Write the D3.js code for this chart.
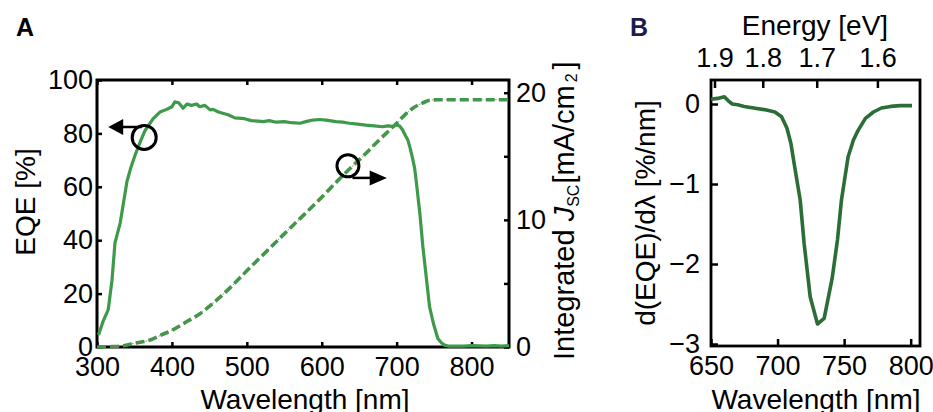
<!DOCTYPE html>
<html>
<head>
<meta charset="utf-8">
<script src="https://cdn.jsdelivr.net/npm/d3@7"></script>
<style>
  body { margin: 0; background: #fff; }
  svg text { font-family: "Liberation Sans", Arial, sans-serif; fill: #000; }
</style>
</head>
<body>
<div id="chart"></div>
<script>
(function()
{
    var width = 933;
    var height = 412;

    // panel A: EQE [%] vs wavelength
    var eqeWavelength = [302, 308, 315, 320, 324, 331, 340, 345, 351, 358, 364, 375, 384, 393, 400, 404, 409, 415, 420, 426,
        433, 437, 444, 451, 455, 462, 475, 484, 497, 506, 515, 522, 530, 539, 550, 560, 571, 580, 588, 597,
        606, 619, 628, 637, 648, 659, 670, 681, 688, 695, 700, 704, 708, 712, 715, 718, 721, 724, 726, 731,
        735, 740, 744, 749, 755, 760, 764, 770, 780, 790, 800, 810, 820, 830, 840, 850];
    var eqeValue = [4.5, 9.5, 14, 25, 39, 46.5, 62, 67, 72, 77, 81, 85.5, 88, 89, 90, 91.8, 91.5, 89.4, 91, 90.5,
        91, 90, 90.5, 88.8, 89, 88, 87, 85.8, 85.5, 84.8, 84.6, 84.4, 84.8, 84.2, 84.4, 84, 83.8, 84.5, 85, 85.2,
        85, 84.4, 84.2, 83.8, 83.5, 83.1, 82.8, 82.5, 82.8, 82.6, 83.2, 82.8, 81.3, 79, 77.5, 74.5, 71, 67, 62.5, 50,
        37.6, 25, 15, 8.9, 3.2, 1.5, 0.7, 0.3, 0.3, 0.3, 0.5, 0.4, 0.3, 0.5, 0.3, 0.5];

    // panel A: integrated Jsc [mA/cm2]
    var jscWavelength = [300, 320, 335, 350, 371, 386, 401, 420, 437, 460, 481, 500, 526, 550, 571, 597, 620, 637, 655, 677,
        700, 710, 722, 735, 744, 755, 850];
    var jscValue = [0, 0.03, 0.1, 0.3, 0.55, 0.95, 1.35, 2.0, 2.6, 3.7, 4.85, 6.0, 7.5, 8.9, 10.1, 11.6, 13.0, 14.0, 15.0, 16.3,
        17.6, 18.2, 18.8, 19.2, 19.4, 19.45, 19.45];

    // panel B: d(EQE)/dλ
    var derivWavelength = [650, 655, 660, 663, 666, 670, 675, 682, 690, 698, 703, 707, 710, 713, 717, 720, 724.5, 730, 735, 741,
        745, 748, 753, 757, 760.5, 766, 772, 778, 785, 792, 801];
    var derivValue = [0.06, 0.07, 0.09, 0.04, 0, -0.01, -0.03, -0.05, -0.07, -0.1, -0.16, -0.3, -0.49, -0.8, -1.2, -1.75, -2.41, -2.75, -2.68, -2.18,
        -1.7, -1.2, -0.66, -0.45, -0.33, -0.18, -0.1, -0.05, -0.03, -0.02, -0.02];

    var aXTicks = [300, 400, 500, 600, 700, 800];
    var aLeftTicks = [0, 20, 40, 60, 80, 100];
    var aRightTicks = [0, 5, 10, 15, 20];
    var aRightLabels = [0, 10, 20];
    var bXTicks = [650, 700, 750, 800];
    var bYTicks = [0, -1, -2, -3];
    var bEnergyTicks = [1.9, 1.8, 1.7, 1.6];

    var green = "#3d9a4b";
    var darkGreen = "#2b6d36";

    var svg = d3.select("#chart").append("svg")
        .attr("width", width)
        .attr("height", height);

    svg.append("rect").attr("width", width).attr("height", height).attr("fill", "#fff");

    function styleAxis(g) {
        g.select(".domain").remove();
        g.selectAll(".tick line").attr("stroke", "#000").attr("stroke-width", 2.5);
        g.selectAll(".tick text").attr("font-size", 27)
            .style("font-family", "'Liberation Sans', Arial, sans-serif");
    }

    // ---------- panel A ----------
    var A = {left: 97, right: 509, top: 80, bottom: 347};

    var xA = d3.scaleLinear().domain([300, 850]).range([A.left, A.right]);
    var yA = d3.scaleLinear().domain([0, 100]).range([A.bottom, A.top]);
    var yJ = d3.scaleLinear().domain([0, 21]).range([A.bottom, A.top]);

    svg.append("g").attr("transform", "translate(0," + A.bottom + ")")
        .call(d3.axisBottom(xA).tickValues(aXTicks).tickSizeInner(-5).tickSizeOuter(0).tickPadding(10))
        .call(styleAxis);
    svg.append("g").attr("transform", "translate(0," + A.top + ")")
        .call(d3.axisTop(xA).tickValues(aXTicks).tickSizeInner(-5).tickSizeOuter(0).tickFormat(""))
        .call(styleAxis);
    svg.append("g").attr("transform", "translate(" + A.left + ",0)")
        .call(d3.axisLeft(yA).tickValues(aLeftTicks).tickSizeInner(-5).tickSizeOuter(0).tickPadding(4))
        .call(styleAxis);
    svg.append("g").attr("transform", "translate(" + A.right + ",0)")
        .call(d3.axisRight(yJ).tickValues(aRightTicks).tickSizeInner(-5).tickSizeOuter(0).tickPadding(7)
            .tickFormat(function(d){ return aRightLabels.indexOf(d) >= 0 ? d : ""; }))
        .call(styleAxis);

    svg.append("rect")
        .attr("x", A.left).attr("y", A.top)
        .attr("width", A.right - A.left).attr("height", A.bottom - A.top)
        .attr("fill", "none").attr("stroke", "#000").attr("stroke-width", 3);

    var eqeLine = d3.line()
        .x(function(d, i){ return xA(eqeWavelength[i]); })
        .y(function(d){ return yA(d); });
    svg.append("path").datum(eqeValue)
        .attr("d", eqeLine)
        .attr("fill", "none").attr("stroke", green).attr("stroke-width", 3.2)
        .attr("stroke-linejoin", "round");

    var jscLine = d3.line()
        .curve(d3.curveMonotoneX)
        .x(function(d, i){ return xA(jscWavelength[i]); })
        .y(function(d){ return yJ(d); });
    svg.append("path").datum(jscValue)
        .attr("d", jscLine)
        .attr("fill", "none").attr("stroke", green).attr("stroke-width", 3.6)
        .attr("stroke-dasharray", "9,4");
    svg.append("path").datum(jscValue)
        .attr("d", jscLine)
        .attr("fill", "none").attr("stroke", "#c0504d").attr("stroke-width", 1)
        .attr("stroke-dasharray", "2,5").attr("opacity", 0.8);

    // arrow + circle markers
    var marker = svg.append("g");
    marker.append("circle")
        .attr("cx", xA(363)).attr("cy", yA(78.5)).attr("r", 12)
        .attr("fill", "none").attr("stroke", "#000").attr("stroke-width", 3);
    marker.append("line")
        .attr("x1", xA(360)).attr("x2", xA(330)).attr("y1", yA(82.4)).attr("y2", yA(82.4))
        .attr("stroke", "#000").attr("stroke-width", 2.5);
    marker.append("path")
        .attr("d", "M" + xA(315) + "," + yA(82.4) + "L" + xA(335) + "," + (yA(82.4) - 8) + "L" + xA(335) + "," + (yA(82.4) + 8) + "Z")
        .attr("fill", "#000");

    marker.append("circle")
        .attr("cx", xA(635)).attr("cy", yJ(14.25)).attr("r", 11)
        .attr("fill", "none").attr("stroke", "#000").attr("stroke-width", 3);
    marker.append("line")
        .attr("x1", xA(641)).attr("x2", xA(668)).attr("y1", yJ(13.3)).attr("y2", yJ(13.3))
        .attr("stroke", "#000").attr("stroke-width", 2.5);
    marker.append("path")
        .attr("d", "M" + xA(687) + "," + yJ(13.3) + "L" + xA(664) + "," + (yJ(13.3) - 7.5) + "L" + xA(664) + "," + (yJ(13.3) + 7.5) + "Z")
        .attr("fill", "#000");

    // labels A
    svg.append("text").attr("x", 16).attr("y", 36).attr("font-size", 25).attr("font-weight", "bold").text("A");
    svg.append("text").attr("x", (A.left + A.right) / 2 + 2).attr("y", 409)
        .attr("text-anchor", "middle").attr("font-size", 28).text("Wavelength [nm]");
    svg.append("text").attr("transform", "translate(35,202) rotate(-90)")
        .attr("text-anchor", "middle").attr("font-size", 28).text("EQE [%]");

    var jLabel = svg.append("text").attr("transform", "translate(574,360) rotate(-90)")
        .attr("text-anchor", "start").attr("font-size", 29);
    jLabel.append("tspan").text("Integrated ");
    jLabel.append("tspan").attr("font-style", "italic").text("J");
    jLabel.append("tspan").attr("font-size", 16).attr("dy", 5).text("SC");
    jLabel.append("tspan").attr("dy", -5).attr("dx", 1).text("[mA/cm");
    jLabel.append("tspan").attr("font-size", 16).attr("dy", 3).attr("dx", 3).text("2");
    jLabel.append("tspan").attr("dy", -3).attr("dx", 4).text("]");

    // ---------- panel B ----------
    var B = {left: 711, right: 920, top: 80, bottom: 346};

    var xB = d3.scaleLinear().domain([650, 807]).range([B.left, B.right]);
    var yB = d3.scaleLinear().domain([-3.025, 0.3]).range([B.bottom, B.top]);

    svg.append("g").attr("transform", "translate(0," + B.bottom + ")")
        .call(d3.axisBottom(xB).tickValues(bXTicks).tickSizeInner(-7).tickSizeOuter(0).tickPadding(10))
        .call(styleAxis);
    svg.append("g").attr("transform", "translate(" + B.left + ",0)")
        .call(d3.axisLeft(yB).tickValues(bYTicks).tickSizeInner(-7).tickSizeOuter(0).tickPadding(11)
            .tickFormat(function(d){ return d < 0 ? "\u2212" + Math.abs(d) : d; }))
        .call(styleAxis);
    svg.append("g").attr("transform", "translate(0," + B.top + ")")
        .call(d3.axisTop(xB).tickValues(bEnergyTicks.map(function(e){ return 1240 / e; }))
            .tickSizeInner(-8).tickSizeOuter(0).tickPadding(13)
            .tickFormat(function(w){ return d3.format(".1f")(1240 / w); }))
        .call(styleAxis);

    svg.append("rect")
        .attr("x", B.left).attr("y", B.top)
        .attr("width", B.right - B.left).attr("height", B.bottom - B.top)
        .attr("fill", "none").attr("stroke", "#000").attr("stroke-width", 2.8);

    var derivLine = d3.line()
        .x(function(d, i){ return xB(derivWavelength[i]); })
        .y(function(d){ return yB(d); });
    svg.append("path").datum(derivValue)
        .attr("d", derivLine)
        .attr("fill", "none").attr("stroke", darkGreen).attr("stroke-width", 3.6)
        .attr("stroke-linejoin", "round");

    svg.append("text").attr("x", 630).attr("y", 36).attr("font-size", 25).attr("font-weight", "bold")
        .style("fill", "#1c1c50").text("B");
    svg.append("text").attr("x", 815).attr("y", 35)
        .attr("text-anchor", "middle").attr("font-size", 28).text("Energy [eV]");
    svg.append("text").attr("x", 816).attr("y", 409)
        .attr("text-anchor", "middle").attr("font-size", 28).text("Wavelength [nm]");
    svg.append("text").attr("transform", "translate(655,213) rotate(-90)")
        .attr("text-anchor", "middle").attr("font-size", 28).text("d(EQE)/d\u03bb [%/nm]");

})();
</script>
</body>
</html>
